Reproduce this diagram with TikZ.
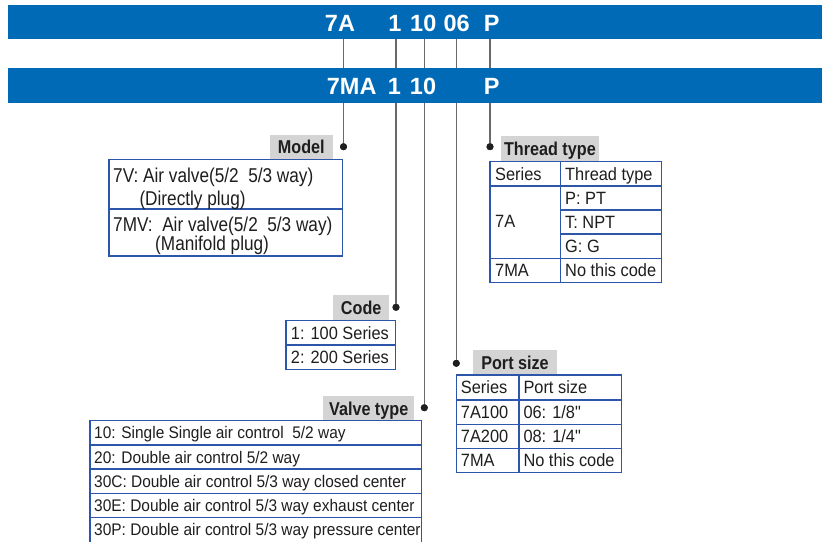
\documentclass[tikz,border=0pt]{standalone}
\usepackage{fontspec}
\setmainfont{Liberation Sans}
\newfontfamily\tabfont[FakeStretch=0.92]{Liberation Sans}
\newfontfamily\modfont[FakeStretch=0.86]{Liberation Sans}
\newfontfamily\hdfont[FakeStretch=0.87]{Liberation Sans}
\definecolor{barblue}{RGB}{0,106,182}
\definecolor{tblblue}{RGB}{45,85,170}
\definecolor{lblgray}{RGB}{212,212,212}
\definecolor{linegray}{RGB}{105,105,105}
\definecolor{txt}{RGB}{30,30,30}
\tikzset{
  barfill/.style={fill=barblue, draw=none},
  bartxt/.style={text=white, inner sep=0pt, text height=16.8pt, text depth=0pt,
    font=\fontsize{23.5}{26}\selectfont\bfseries},
  lbl/.style={fill=lblgray, inner sep=0pt, text height=13.3pt, text depth=0pt, text=txt,
    font=\hdfont\fontsize{18.6}{20}\selectfont\bfseries},
  cell/.style={anchor=west, inner sep=0pt, text height=12.74pt, text depth=0pt, text=txt,
    font=\tabfont\fontsize{17.8}{20}\selectfont},
  vcell/.style={anchor=west, inner sep=0pt, text height=12.03pt, text depth=0pt, text=txt,
    font=\tabfont\fontsize{16.8}{20}\selectfont},
  mcell/.style={anchor=base west, inner sep=0pt, text=txt,
    font=\modfont\fontsize{20}{22}\selectfont},
  tbl/.style={draw=tblblue, line width=1.2pt},
  leader/.style={draw=linegray, line width=1.1pt},
  dotnode/.style={circle, fill=black!88, draw=none, inner sep=0pt, minimum size=7pt}
}
\begin{document}
\begin{tikzpicture}[x=1pt,y=-1pt]
\clip (0,0) rectangle (822,541);
\fill[white] (0,0) rectangle (822,541);

% leader start coordinates (bottom of top bar)
\coordinate (sModel) at (343.5,39.3);
\coordinate (sCode) at (396,39.3);
\coordinate (sValve) at (424.3,39.3);
\coordinate (sPort) at (456.3,39.3);
\coordinate (sThread) at (490,39.3);

% dots
\node[dotnode] (dModel) at (343.5,146.7) {};
\node[dotnode] (dCode) at (396,307.3) {};
\node[dotnode] (dValve) at (424.3,407.7) {};
\node[dotnode] (dPort) at (456.3,363.3) {};
\node[dotnode] (dThread) at (490,146.7) {};

\draw[leader] (sModel) -- (dModel.center);
\draw[leader] (sCode) -- (dCode.center);
\draw[leader] (sValve) -- (dValve.center);
\draw[leader] (sPort) -- (dPort.center);
\draw[leader] (sThread) -- (dThread.center);

% redraw dots on top
\node[dotnode] at (dModel) {};
\node[dotnode] at (dCode) {};
\node[dotnode] at (dValve) {};
\node[dotnode] at (dPort) {};
\node[dotnode] at (dThread) {};

% bars
\fill[barfill] (8,5) rectangle (822,39.3);
\fill[barfill] (8,68) rectangle (822,102.7);

\node[bartxt] (b7A) at (340,22.8) {7A};
\node[bartxt] (b1) at (395,22.8) {1};
\node[bartxt] (b10) at (423.3,22.8) {10};
\node[bartxt] (b06) at (456.7,22.8) {06};
\node[bartxt] (bP) at (491.7,22.8) {P};

\node[bartxt] (c7MA) at (351.7,85.7) {7MA};
\node[bartxt] (c1) at (394.5,85.7) {1};
\node[bartxt] (c10) at (423,85.7) {10};
\node[bartxt] (cP) at (491.7,85.7) {P};

% ---- Model ----
\node[lbl, minimum width=62.7pt, minimum height=24.3pt] (lModel) at (301.3,147.2) {Model};
\draw[tbl] (109,159.3) rectangle (342.3,256);
\draw[tbl] (109,209) -- (342.3,209);
\node[mcell] (m1) at (113,182.7) {7V: Air valve(5/2\ \ 5/3 way)};
\node[mcell] (m2) at (139.3,205.2) {(Directly plug)};
\node[mcell] (m3) at (113,231.6) {7MV:\ \ Air valve(5/2\ \ 5/3 way)};
\node[mcell] (m4) at (155,250.3) {(Manifold plug)};

% ---- Thread type ----
\node[lbl, minimum width=98.3pt, minimum height=25.7pt] (lThread) at (549.9,148.8) {Thread type};
\draw[tbl] (490,161.7) rectangle (661.7,282.7);
\draw[tbl] (490,186) -- (661.7,186);
\draw[tbl] (490,258.3) -- (661.7,258.3);
\draw[tbl] (560.7,210) -- (661.7,210);
\draw[tbl] (560.7,234) -- (661.7,234);
\draw[tbl] (560.7,161.7) -- (560.7,282.7);
\node[cell] (t11) at (495,173.85) {Series};
\node[cell] (t12) at (565,173.85) {Thread type};
\node[cell] (t21) at (495,221.5) {7A};
\node[cell] (t22) at (565,198) {P: PT};
\node[cell] (t32) at (565,222) {T: NPT};
\node[cell] (t42) at (565,246.15) {G: G};
\node[cell] (t51) at (495,270.5) {7MA};
\node[cell] (t52) at (565,270.5) {No this code};

% ---- Code ----
\node[lbl, minimum width=55.7pt, minimum height=25.7pt] (lCode) at (361.2,307.9) {Code};
\draw[tbl] (286,320.7) rectangle (395.7,369.3);
\draw[tbl] (286,345) -- (395.7,345);
\node[cell] (k1) at (290.7,332.85) {1: 100 Series};
\node[cell] (k2) at (290.7,357.15) {2: 200 Series};

% ---- Port size ----
\node[lbl, minimum width=84.6pt, minimum height=25pt] (lPort) at (515,362.5) {Port size};
\draw[tbl] (456.7,375) rectangle (621.7,472.7);
\draw[tbl] (456.7,400) -- (621.7,400);
\draw[tbl] (456.7,424.3) -- (621.7,424.3);
\draw[tbl] (456.7,448.3) -- (621.7,448.3);
\draw[tbl] (519,375) -- (519,472.7);
\node[cell] (p11) at (460.7,387.5) {Series};
\node[cell] (p12) at (523.3,387.5) {Port size};
\node[cell] (p21) at (460.7,412.15) {7A100};
\node[cell] (p22) at (523.3,412.15) {06: 1/8"};
\node[cell] (p31) at (460.7,436.3) {7A200};
\node[cell] (p32) at (523.3,436.3) {08: 1/4"};
\node[cell] (p41) at (460.7,460.5) {7MA};
\node[cell] (p42) at (523.3,460.5) {No this code};

% ---- Valve type ----
\node[lbl, minimum width=90.7pt, minimum height=24.7pt] (lValve) at (368.7,408.4) {Valve type};
\draw[tbl] (90,420.7) rectangle (421.7,542.5);
\draw[tbl] (90,445) -- (421.7,445);
\draw[tbl] (90,469) -- (421.7,469);
\draw[tbl] (90,493.3) -- (421.7,493.3);
\draw[tbl] (90,517.3) -- (421.7,517.3);
\node[vcell] (v1) at (94,432.85) {10: Single Single air control\ \ 5/2 way};
\node[vcell] (v2) at (94,457) {20: Double air control 5/2 way};
\node[vcell] (v3) at (94,481.15) {30C: Double air control 5/3 way closed center};
\node[vcell] (v4) at (94,505.3) {30E: Double air control 5/3 way exhaust center};
\node[vcell] (v5) at (94,529.4) {30P: Double air control 5/3 way pressure center};
\end{tikzpicture}
\end{document}
